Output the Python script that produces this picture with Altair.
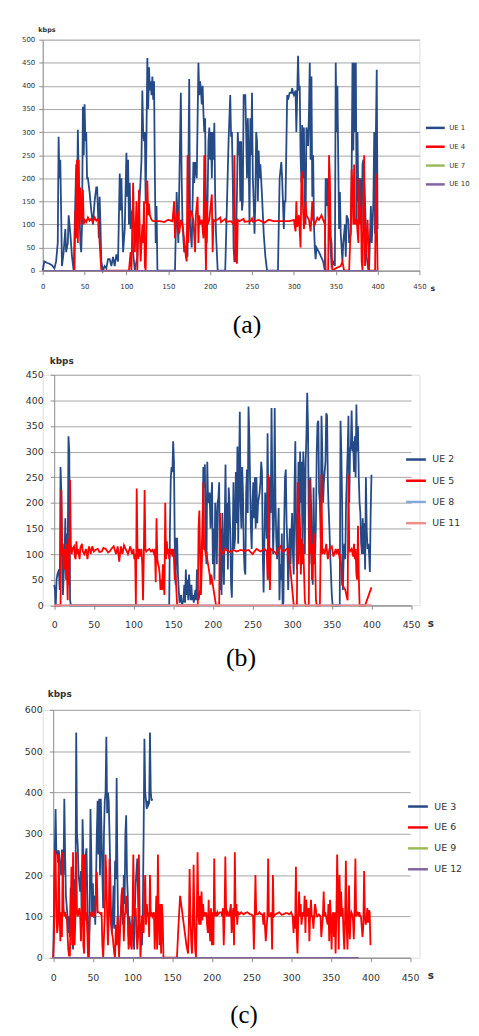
import altair as alt
import pandas as pd

# ---------------- data ----------------
X_TICKS = [0, 50, 100, 150, 200, 250, 300, 350, 400, 450]
Y_TICKS_A = [0, 50, 100, 150, 200, 250, 300, 350, 400, 450, 500]
Y_TICKS_B = [0, 50, 100, 150, 200, 250, 300, 350, 400, 450]
Y_TICKS_C = [0, 100, 200, 300, 400, 500, 600]

# panel (a)
UE1 = [(0,0),(2,20),(5,17),(8,15),(11,12),(14,5),(16,20),(18,60),(19,290),(20,200),(21,240),(22,130),(23,10),(25,40),(27,90),(28,40),(30,60),(31,120),(33,80),(35,30),(37,0),(40,230),(41,150),(42,305),(43,200),(44,120),(45,60),(46,40),(47,100),(48,355),(49,250),(50,360),(51,280),(52,300),(53,200),(54,200),(56,170),(58,130),(60,100),(62,150),(64,180),(65,180),(66,130),(67,70),(68,160),(69,100),(70,20),(72,0),(74,10),(76,5),(78,25),(80,25),(82,10),(84,30),(86,10),(88,35),(90,20),(92,210),(93,130),(94,200),(96,40),(98,90),(100,255),(101,160),(102,240),(103,100),(104,190),(105,90),(107,130),(108,40),(110,0),(113,30),(115,130),(117,200),(118,240),(119,390),(120,300),(121,280),(122,300),(123,145),(124,300),(125,460),(126,350),(127,440),(128,390),(129,410),(130,380),(131,420),(132,370),(133,410),(134,200),(135,60),(136,140),(137,0),(158,0),(160,170),(162,60),(165,385),(166,200),(167,100),(169,40),(171,50),(173,30),(175,415),(176,100),(178,50),(180,235),(181,190),(182,235),(184,200),(186,450),(187,380),(188,410),(189,390),(190,360),(191,400),(192,340),(193,300),(194,330),(195,120),(196,60),(197,160),(198,280),(199,310),(200,240),(201,300),(202,200),(203,300),(204,240),(205,320),(206,160),(207,80),(209,0),(218,0),(222,280),(224,380),(225,290),(226,300),(227,200),(228,50),(229,20),(230,20),(231,80),(232,160),(233,300),(234,250),(235,280),(236,150),(237,280),(238,130),(239,150),(240,380),(242,380),(243,300),(244,200),(245,330),(246,250),(247,100),(248,330),(249,250),(250,385),(251,200),(252,150),(253,80),(254,150),(255,300),(256,280),(257,150),(258,260),(259,200),(260,230),(262,160),(264,80),(266,30),(268,0),(281,0),(283,200),(285,235),(286,200),(288,90),(289,150),(290,150),(292,380),(293,370),(295,385),(297,385),(298,395),(299,385),(300,380),(302,390),(303,300),(305,465),(306,390),(307,400),(308,250),(309,190),(310,315),(311,200),(312,310),(313,150),(314,100),(315,310),(317,270),(318,340),(319,450),(320,240),(321,420),(322,160),(323,250),(324,100),(325,50),(326,25),(327,50),(330,40),(335,20),(337,0),(338,200),(339,140),(340,200),(342,100),(343,75),(345,10),(348,20),(349,10),(350,450),(351,300),(352,400),(353,240),(354,90),(355,170),(356,80),(357,50),(358,20),(359,60),(361,100),(362,30),(363,120),(365,110),(366,60),(368,80),(369,200),(370,450),(371,260),(372,450),(373,300),(374,450),(375,100),(376,300),(377,150),(378,200),(379,120),(380,200),(381,90),(382,230),(383,240),(385,150),(387,30),(389,0),(390,10),(391,80),(392,140),(393,60),(394,100),(395,150),(396,300),(397,80),(398,300),(399,435),(400,90)]
UE4 = [(38,0),(39,130),(40,70),(41,240),(42,60),(43,240),(44,110),(45,180),(46,100),(47,140),(48,175),(49,100),(50,110),(52,105),(54,115),(56,108),(58,112),(60,105),(62,115),(64,108),(66,112),(67,110),(68,60),(70,0),(103,0),(105,40),(106,0),(108,190),(109,100),(110,40),(112,150),(113,0),(115,175),(116,80),(117,20),(119,100),(120,60),(121,150),(122,10),(123,0),(125,195),(126,120),(127,145),(128,120),(130,110),(132,107),(140,107),(145,105),(150,110),(155,107),(157,150),(158,70),(159,110),(162,130),(163,80),(165,110),(167,100),(170,50),(171,30),(172,20),(173,250),(174,60),(175,110),(177,130),(180,110),(182,40),(183,120),(185,160),(186,60),(187,120),(188,100),(190,110),(192,70),(193,250),(194,100),(195,0),(196,150),(197,100),(199,110),(202,165),(203,40),(204,110),(206,107),(212,115),(213,105),(218,112),(219,106),(225,107),(228,100),(229,250),(230,20),(231,110),(232,15),(233,110),(235,107),(240,112),(241,106),(248,107),(250,113),(251,106),(258,110),(265,104),(270,110),(276,107),(285,107),(295,107),(300,110),(302,85),(303,150),(304,95),(306,120),(308,50),(309,200),(310,215),(311,130),(312,90),(314,150),(315,120),(318,110),(320,85),(322,150),(323,110),(325,100),(328,115),(330,110),(333,120),(336,105),(337,110),(338,0),(341,0),(342,250),(343,200),(344,75),(345,60),(346,0),(350,5),(356,10),(358,20),(360,0),(366,0),(368,100),(369,220),(370,180),(371,100),(372,230),(373,100),(374,110),(375,110),(377,60),(378,200),(379,100),(380,140),(381,20),(382,0),(384,250),(385,10),(386,40),(388,110),(390,0),(397,0),(398,210),(399,120),(400,0)]
UE7 = [(0,0),(400,0)]
UE10 = [(0,0),(400,0)]

# panel (b)
UE2 = [(0,40),(1,30),(2,0),(3,50),(4,60),(6,70),(7,30),(8,270),(9,220),(10,100),(11,20),(12,60),(13,90),(14,170),(15,50),(16,140),(17,80),(18,330),(19,300),(20,10),(21,0),(145,0),(146,160),(147,250),(148,270),(149,260),(150,320),(151,280),(152,120),(153,40),(154,130),(155,130),(156,60),(157,30),(158,5),(160,20),(161,0),(163,10),(164,40),(165,5),(166,70),(167,20),(168,50),(169,10),(170,60),(171,30),(172,10),(173,40),(174,10),(175,20),(176,5),(178,30),(179,10),(180,70),(181,20),(182,10),(184,30),(186,100),(187,150),(188,270),(189,230),(190,275),(191,110),(192,80),(193,280),(194,200),(195,210),(196,220),(197,150),(198,200),(199,240),(200,80),(201,150),(202,50),(203,200),(204,170),(205,80),(206,200),(207,210),(208,240),(209,30),(210,150),(211,20),(212,180),(213,100),(214,40),(215,160),(216,275),(217,110),(218,200),(219,70),(220,230),(221,200),(222,140),(223,40),(224,15),(225,120),(226,240),(227,110),(228,130),(229,260),(230,160),(231,310),(232,120),(233,250),(234,378),(235,200),(236,150),(237,270),(238,220),(239,110),(240,70),(241,60),(242,220),(243,265),(244,180),(245,388),(246,330),(247,240),(248,150),(249,110),(250,200),(251,240),(252,170),(253,250),(254,150),(255,250),(256,160),(257,200),(258,210),(259,220),(260,240),(261,280),(262,260),(263,100),(264,25),(265,120),(266,220),(267,180),(268,130),(269,336),(270,200),(271,50),(272,250),(273,180),(274,385),(275,230),(276,100),(277,160),(278,385),(279,200),(280,130),(281,90),(282,140),(283,190),(284,10),(285,80),(286,50),(287,140),(288,0),(289,5),(290,160),(291,250),(292,265),(293,160),(294,120),(295,30),(296,90),(297,150),(298,80),(299,140),(300,180),(301,100),(302,60),(303,230),(304,320),(305,150),(306,70),(307,160),(308,280),(309,100),(310,300),(311,200),(312,280),(313,100),(314,300),(315,250),(316,100),(317,280),(318,330),(319,415),(320,350),(321,150),(322,80),(323,250),(324,190),(325,70),(326,40),(327,230),(328,120),(329,100),(330,160),(331,300),(332,355),(333,360),(334,220),(335,200),(336,130),(337,370),(338,300),(339,200),(340,240),(341,260),(342,280),(343,375),(344,370),(345,240),(346,190),(347,150),(348,100),(349,60),(350,20),(351,0),(360,0),(361,360),(362,300),(363,200),(364,30),(365,100),(366,120),(367,90),(368,200),(369,250),(370,300),(371,370),(372,200),(373,300),(374,310),(375,380),(376,300),(377,320),(378,260),(379,330),(380,250),(381,392),(382,300),(383,350),(384,250),(385,200),(386,180),(387,120),(388,100),(389,170),(390,100),(391,160),(392,70),(393,250),(394,150),(395,110),(396,120),(397,100),(398,65),(399,180),(400,255)]
UE5 = [(0,0),(8,0),(9,225),(10,100),(11,120),(12,70),(13,110),(14,70),(15,120),(16,70),(17,10),(18,130),(19,40),(20,245),(21,120),(22,100),(23,110),(25,115),(26,95),(27,90),(28,125),(29,100),(30,110),(32,90),(33,112),(35,120),(36,105),(38,100),(40,110),(42,90),(43,108),(44,115),(46,100),(48,115),(50,105),(52,108),(55,110),(57,104),(60,105),(62,112),(65,110),(68,103),(70,105),(72,110),(75,115),(77,105),(78,100),(80,115),(82,85),(84,115),(86,100),(88,117),(90,110),(92,104),(93,100),(96,115),(98,100),(100,110),(101,90),(102,100),(103,0),(104,228),(105,110),(106,90),(107,110),(108,95),(109,105),(110,110),(111,80),(112,10),(113,100),(114,225),(115,110),(116,105),(118,108),(120,110),(122,105),(124,108),(126,100),(127,110),(128,45),(129,170),(130,90),(131,80),(132,75),(133,60),(134,30),(135,50),(136,30),(137,80),(138,40),(139,20),(140,200),(141,90),(142,125),(143,100),(144,110),(145,90),(146,110),(147,100),(148,110),(149,95),(150,110),(151,90),(152,50),(153,60),(154,30),(155,0),(181,0),(182,150),(183,185),(184,100),(185,20),(186,70),(187,140),(188,240),(189,110),(190,110),(191,100),(192,105),(193,90),(194,80),(195,70),(196,60),(197,40),(198,60),(199,50),(200,40),(204,0),(208,0),(209,180),(210,110),(211,105),(213,100),(215,110),(218,107),(222,104),(226,108),(230,105),(235,108),(240,106),(245,108),(250,100),(255,110),(260,105),(265,110),(268,105),(269,50),(270,255),(271,100),(272,30),(273,110),(275,108),(278,104),(280,100),(283,110),(285,115),(288,105),(290,105),(293,110),(295,110),(296,100),(297,80),(299,50),(302,0),(306,0),(307,240),(308,80),(309,180),(310,150),(311,60),(312,130),(313,80),(314,120),(316,10),(317,0),(321,0),(322,245),(323,100),(324,150),(325,50),(326,120),(327,80),(328,140),(329,90),(330,10),(331,0),(335,0),(336,120),(337,255),(338,100),(339,110),(341,100),(343,120),(345,90),(347,110),(350,115),(352,95),(354,105),(355,110),(356,100),(358,110),(360,90),(361,100),(362,70),(363,40),(365,35),(367,30),(369,15),(370,10),(371,255),(372,110),(373,105),(375,110),(377,95),(378,120),(379,90),(380,110),(381,60),(382,50),(383,155),(384,60),(385,0),(392,0),(400,35)]
UE8 = [(0,0),(400,0)]
UE11 = [(0,0),(400,0)]

# panel (c)
UE3 = [(0,0),(1,120),(2,260),(3,360),(4,250),(5,260),(6,230),(7,260),(8,240),(10,200),(11,260),(12,260),(13,200),(14,385),(15,250),(16,150),(18,100),(19,60),(20,100),(21,50),(22,170),(23,100),(25,20),(26,100),(27,190),(28,100),(29,545),(30,300),(31,270),(32,200),(34,160),(35,210),(36,90),(37,335),(38,250),(39,150),(40,90),(41,250),(42,265),(43,150),(44,40),(45,0),(46,100),(47,360),(48,250),(49,100),(50,180),(51,100),(52,150),(53,80),(55,300),(56,380),(57,250),(58,385),(59,200),(60,385),(61,300),(62,200),(63,120),(64,300),(65,380),(66,400),(67,535),(68,350),(69,400),(70,380),(71,300),(72,200),(73,100),(74,60),(75,100),(76,175),(77,70),(78,235),(79,190),(80,435),(81,200),(82,50),(83,20),(84,60),(85,100),(86,120),(87,140),(88,80),(89,200),(90,130),(91,300),(92,345),(93,200),(94,150),(95,50),(96,100),(97,80),(98,30),(99,60),(100,100),(102,20),(103,120),(104,180),(106,240),(107,150),(108,100),(110,60),(112,30),(113,120),(114,300),(115,530),(116,400),(117,380),(118,360),(119,380),(120,370),(121,375),(122,545),(123,400),(124,380),(125,385)]
UE6 = [(0,0),(1,50),(2,260),(3,250),(4,100),(5,60),(6,80),(7,250),(8,110),(9,40),(10,110),(11,50),(12,255),(13,120),(14,100),(15,110),(16,100),(17,105),(18,60),(19,20),(20,5),(21,5),(22,100),(23,220),(24,30),(25,255),(26,100),(27,30),(28,100),(29,255),(30,110),(31,100),(32,110),(33,120),(34,100),(35,40),(36,120),(37,250),(38,30),(39,10),(40,250),(41,100),(42,110),(43,60),(44,0),(45,30),(46,100),(47,110),(48,100),(49,110),(50,110),(51,100),(53,105),(55,208),(56,110),(58,110),(60,105),(61,110),(62,30),(63,0),(64,50),(65,100),(66,250),(67,200),(68,100),(69,30),(70,100),(71,240),(72,110),(73,80),(74,60),(75,50),(76,30),(77,10),(78,0),(79,80),(80,30),(81,100),(82,60),(83,0),(84,60),(85,100),(86,150),(87,170),(88,130),(89,40),(90,100),(91,110),(92,150),(93,110),(94,100),(95,20),(96,40),(97,80),(98,30),(99,20),(100,100),(101,250),(102,100),(103,110),(104,120),(105,60),(106,20),(107,50),(108,250),(109,100),(110,0),(111,40),(112,100),(113,100),(114,60),(115,150),(116,200),(117,80),(118,130),(119,100),(120,110),(121,50),(122,200),(123,100),(124,110),(125,100),(127,110),(128,20),(130,150),(131,20),(132,250),(133,100),(134,30),(135,130),(136,10),(137,130),(138,100),(139,0),(156,0),(158,80),(160,150),(162,120),(164,90),(166,60),(168,30),(170,10),(171,80),(172,215),(173,100),(174,40),(175,10),(176,80),(177,225),(178,100),(179,20),(180,0),(181,100),(182,255),(183,110),(184,80),(185,150),(186,80),(187,160),(188,90),(189,130),(190,100),(191,110),(192,100),(193,110),(194,80),(195,60),(196,140),(197,70),(198,40),(199,120),(200,30),(201,110),(202,30),(203,240),(204,100),(205,110),(206,100),(207,110),(208,105),(210,110),(212,110),(213,100),(214,120),(215,30),(216,100),(217,245),(218,110),(219,100),(220,110),(222,100),(224,130),(225,60),(226,100),(227,120),(228,30),(229,255),(230,100),(231,130),(232,80),(233,110),(235,105),(237,110),(240,105),(242,108),(245,110),(248,105),(250,105),(252,100),(253,20),(254,100),(255,200),(256,105),(258,105),(260,110),(262,105),(264,105),(265,80),(266,110),(268,40),(270,100),(271,240),(272,100),(273,100),(275,110),(276,20),(277,200),(278,100),(280,105),(283,108),(285,110),(288,104),(290,105),(293,108),(295,108),(298,105),(300,110),(302,100),(303,60),(304,100),(305,70),(306,220),(307,60),(308,10),(309,100),(310,160),(311,100),(312,130),(313,80),(314,100),(315,110),(316,100),(317,150),(318,60),(319,140),(320,100),(322,120),(323,40),(324,110),(325,140),(326,100),(327,100),(328,70),(329,100),(330,130),(331,120),(332,100),(333,100),(335,105),(337,100),(338,50),(340,100),(341,160),(342,100),(343,110),(344,100),(346,80),(347,130),(348,40),(349,140),(350,100),(351,20),(352,100),(353,110),(354,50),(355,110),(356,10),(357,100),(358,250),(359,150),(360,20),(361,200),(362,100),(363,160),(364,100),(365,120),(366,60),(367,20),(368,100),(369,235),(370,80),(371,20),(372,100),(373,175),(374,45),(375,100),(376,110),(377,105),(378,90),(379,45),(380,120),(381,240),(382,100),(383,110),(384,110),(385,100),(386,110),(387,100),(388,100),(390,50),(391,80),(392,210),(393,100),(394,80),(395,90),(396,120),(397,85),(398,115),(399,110),(400,30)]
UE9 = [(0,0),(385,0)]
UE12 = [(0,0),(385,0)]

# ---------------- styling ----------------
FONT = "DejaVu Sans"
CAP_FONT = "Liberation Serif"
AXC = "#8C8C8C"
GRID = "#A6A6A6"
TXT = "#333333"
BLUE = "#264A86"
RED = "#FF0000"
GREEN = "#9BBB59"
PURPLE = "#8064A2"
LBLUE = "#86A8D8"
PINK = "#EE8C8C"
PLOT_W = 380


def build_df(series):
    rows = []
    for name, pairs in series:
        for t, v in pairs:
            rows.append({"t": t, "v": v, "ue": name})
    return pd.DataFrame(rows)


def panel(series, colors, widths, yticks, height, xr, fs, leg, caption, cap_offset, cap_dx,
          kbps_x, kbps_y, xlab_pad, ylab_pad, sym_size, row_pad, s_x, lab_off, cap_size):
    df = build_df(series)
    names = [n for n, _ in series]
    yoff = -xr[0]
    xscale = alt.Scale(domain=[0, 450], range=xr, nice=False, zero=False)
    yscale = alt.Scale(domain=[0, yticks[-1]], nice=False, zero=True)
    xaxis = alt.Axis(values=X_TICKS, grid=False, title="s", titleX=s_x, titleY=18,
                     titleAlign="center", titleBaseline="middle", titleFont=FONT,
                     titleFontSize=fs + 1, titleFontWeight="bold", titleColor=TXT,
                     labelFont=FONT, labelFontSize=fs, labelColor=TXT, labelPadding=xlab_pad,
                     labelFlush=False, labelOverlap=False, tickSize=4, tickColor=AXC,
                     domainColor=AXC, format="d")
    yaxis = alt.Axis(values=yticks, grid=True, gridColor=GRID, gridWidth=1, title="kbps",
                     titleAngle=0, titleAlign="left", titleBaseline="middle", titleX=kbps_x,
                     titleY=kbps_y, titleFont=FONT, titleFontSize=fs - 0.5, titleFontWeight="bold",
                     titleColor=TXT, labelFont=FONT, labelFontSize=fs, labelColor=TXT,
                     labelPadding=ylab_pad, tickSize=4, tickColor=AXC, domainColor=AXC,
                     offset=yoff, format="d")
    legend = alt.Legend(orient="none", legendX=leg[0], legendY=leg[1], title=None,
                        symbolType="stroke", symbolSize=sym_size, symbolStrokeWidth=2.5,
                        labelFont=FONT, labelFontSize=fs, labelColor=TXT, labelOffset=lab_off,
                        rowPadding=row_pad, padding=0)
    cscale = alt.Scale(domain=names, range=colors)
    layers = []
    for name, w in zip(names, widths):
        layers.append(
            alt.Chart(df).transform_filter(alt.datum.ue == name)
            .mark_line(strokeWidth=w)
            .encode(
                x=alt.X("t:Q", scale=xscale, axis=xaxis),
                y=alt.Y("v:Q", scale=yscale, axis=yaxis),
                color=alt.Color("ue:N", scale=cscale, legend=legend),
            )
        )
    return alt.layer(*layers).properties(
        width=PLOT_W, height=height,
        title=alt.TitleParams(caption, orient="bottom", anchor="middle", frame="group",
                              font=CAP_FONT, fontSize=cap_size, fontWeight="normal", color="black",
                              offset=cap_offset, dx=cap_dx),
    )


pa = panel([("UE 1", UE1), ("UE 4", UE4), ("UE 7", UE7), ("UE 10", UE10)],
           [BLUE, RED, GREEN, PURPLE], [1.8, 1.8, 1.5, 1.5], Y_TICKS_A, 233, [0, 380], 7,
           (385, 78), "(a)", 20, 16, -5, -10, 8, 4, 361, 3, 393, 3, 26)
pb = panel([("UE 2", UE2), ("UE 5", UE5), ("UE 8", UE8), ("UE 11", UE11)],
           [BLUE, RED, LBLUE, PINK], [1.8, 1.8, 1.5, 1.5], Y_TICKS_B, 232.5, [11.6, 371.6], 9.5,
           (365, 74), "(b)", 17, 10, -5, -14, 10, 7, 400, 4.4, 391, 5, 26)
pc = panel([("UE 3", UE3), ("UE 6", UE6), ("UE 9", UE9), ("UE 12", UE12)],
           [BLUE, RED, GREEN, PURPLE], [1.8, 1.8, 1.5, 1.5], Y_TICKS_C, 250, [10.6, 370.6], 9.5,
           (367, 86), "(c)", 21, 13, -6, -16, 11, 7, 400, 4.1, 391, 5, 25)

chart = (
    alt.vconcat(pa, pb, pc, spacing=105, bounds="flush")
    .resolve_scale(color="independent")
    .resolve_legend(color="independent")
    .properties(padding={"left": 13, "top": 13.5, "right": 0, "bottom": 0})
    .configure_view(stroke=None)
    .configure(background="white")
)

chart.save("out.html", embed_options={"renderer": "svg", "actions": False})
